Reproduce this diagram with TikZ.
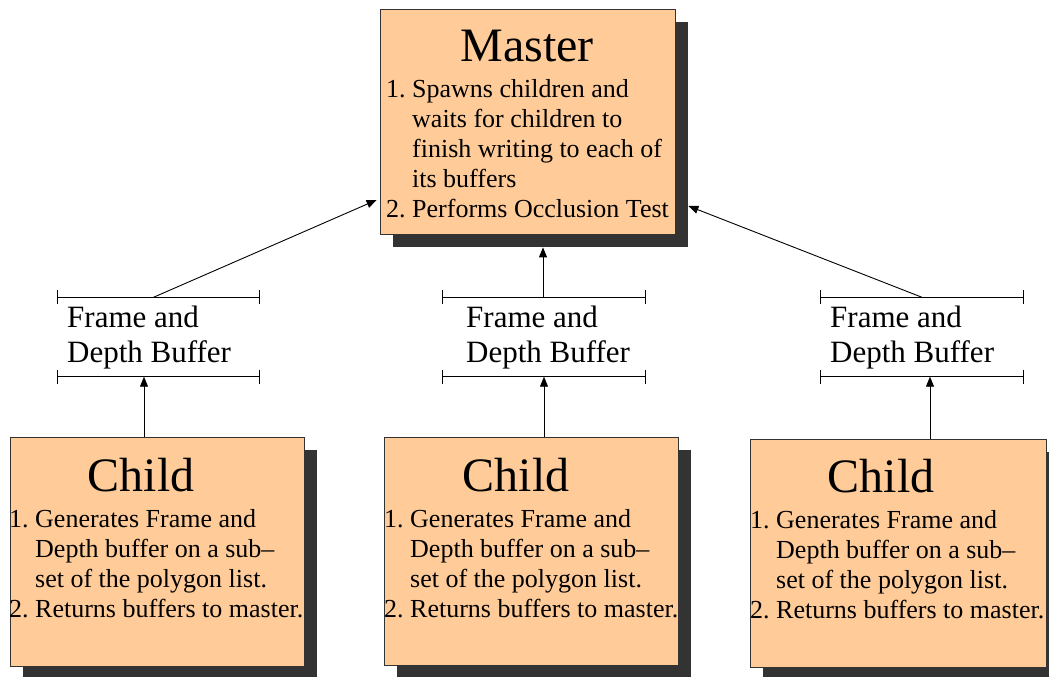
\documentclass[tikz,border=0pt]{standalone}
\usepackage{fontspec}
\setmainfont{Liberation Serif}
\usetikzlibrary{arrows.meta,shadows}
\definecolor{boxpeach}{RGB}{255,204,153}
\definecolor{shadowgray}{RGB}{51,51,51}

\begin{document}
\begin{tikzpicture}[x=1pt,y=-1pt,>={Triangle[length=10pt,width=8pt]},
 procbox/.style={rectangle,draw=black!80,line width=0.8pt,fill=boxpeach,
  drop shadow={shadow xshift=13pt,shadow yshift=-13pt,opacity=1,fill=shadowgray}},
 bigtitle/.style={inner sep=0pt,anchor=base,font=\fontsize{48}{56}\selectfont},
 steplist/.style={inner sep=0pt,anchor=base west,font=\fontsize{26}{30}\selectfont},
 buftext/.style={inner sep=0pt,anchor=base west,font=\fontsize{31}{35}\selectfont},
 bufspan/.style={rectangle,inner sep=0pt,minimum width=203pt,minimum height=79pt},
 bracket/.style={{Bar[width=14pt]}-{Bar[width=14pt]},line width=0.9pt},
 arr/.style={->,line width=0.9pt}]
 \useasboundingbox (0,0) rectangle (1049,677);
 \node[procbox,minimum width=295pt,minimum height=225pt] (master) at (527.5,121.5) {};
 \node[procbox,minimum width=294pt,minimum height=229pt] (child1) at (157,551.5) {};
 \node[procbox,minimum width=294pt,minimum height=228pt] (child2) at (531,551) {};
 \node[procbox,minimum width=296pt,minimum height=228pt] (child3) at (898,553) {};
 \node[bigtitle] (mtitle) at (527,62) {Master};
 \node[steplist] (mlist) at (386,97) {\begin{tabular}[t]{@{}l@{\ }l@{}}
  1.&Spawns children and\\ &waits for children to\\ &finish writing to each of\\
  &its buffers\\ 2.&Performs Occlusion Test\end{tabular}};
 \foreach \i/\tx/\lx/\y in {1/141/9/491,2/516/384/491,3/881/750/492}{
  \node[bigtitle] (ctitle\i) at (\tx,\y) {Child};
  \node[steplist] (clist\i) at (\lx,\y+36) {\begin{tabular}[t]{@{}l@{\ }l@{}}
   1.&Generates Frame and\\ &Depth buffer on a sub--\\ &set of the polygon list.\\
   2.&Returns buffers to master.\end{tabular}};
 }
 \foreach \i/\bx/\tx in {1/158.5/67,2/544/466,3/922/830}{
  \node[bufspan] (buf\i) at (\bx,337) {};
  \node[buftext] (btext\i) at (\tx,327) {\begin{tabular}[t]{@{}l@{}}Frame and\\Depth Buffer\end{tabular}};
  \draw[bracket] (buf\i.north west) -- (buf\i.north east);
  \draw[bracket] (buf\i.south west) -- (buf\i.south east);
 }
 \draw[arr] ([xshift=-13pt]child1.north) -- ([xshift=-14.5pt]buf1.south);
 \draw[arr] ([xshift=13pt]child2.north) -- (buf2.south);
 \draw[arr] ([xshift=32pt]child3.north) -- ([xshift=8pt]buf3.south);
 \draw[arr] ([xshift=-5pt]buf1.north) -- ([xshift=-3pt,yshift=-78.5pt]master.west);
 \draw[arr] ([xshift=-1pt]buf2.north) -- ([xshift=15.5pt,yshift=-13pt]master.south);
 \draw[arr] (buf3.north) -- ([xshift=13pt,yshift=-84.5pt]master.east);
\end{tikzpicture}
\end{document}
